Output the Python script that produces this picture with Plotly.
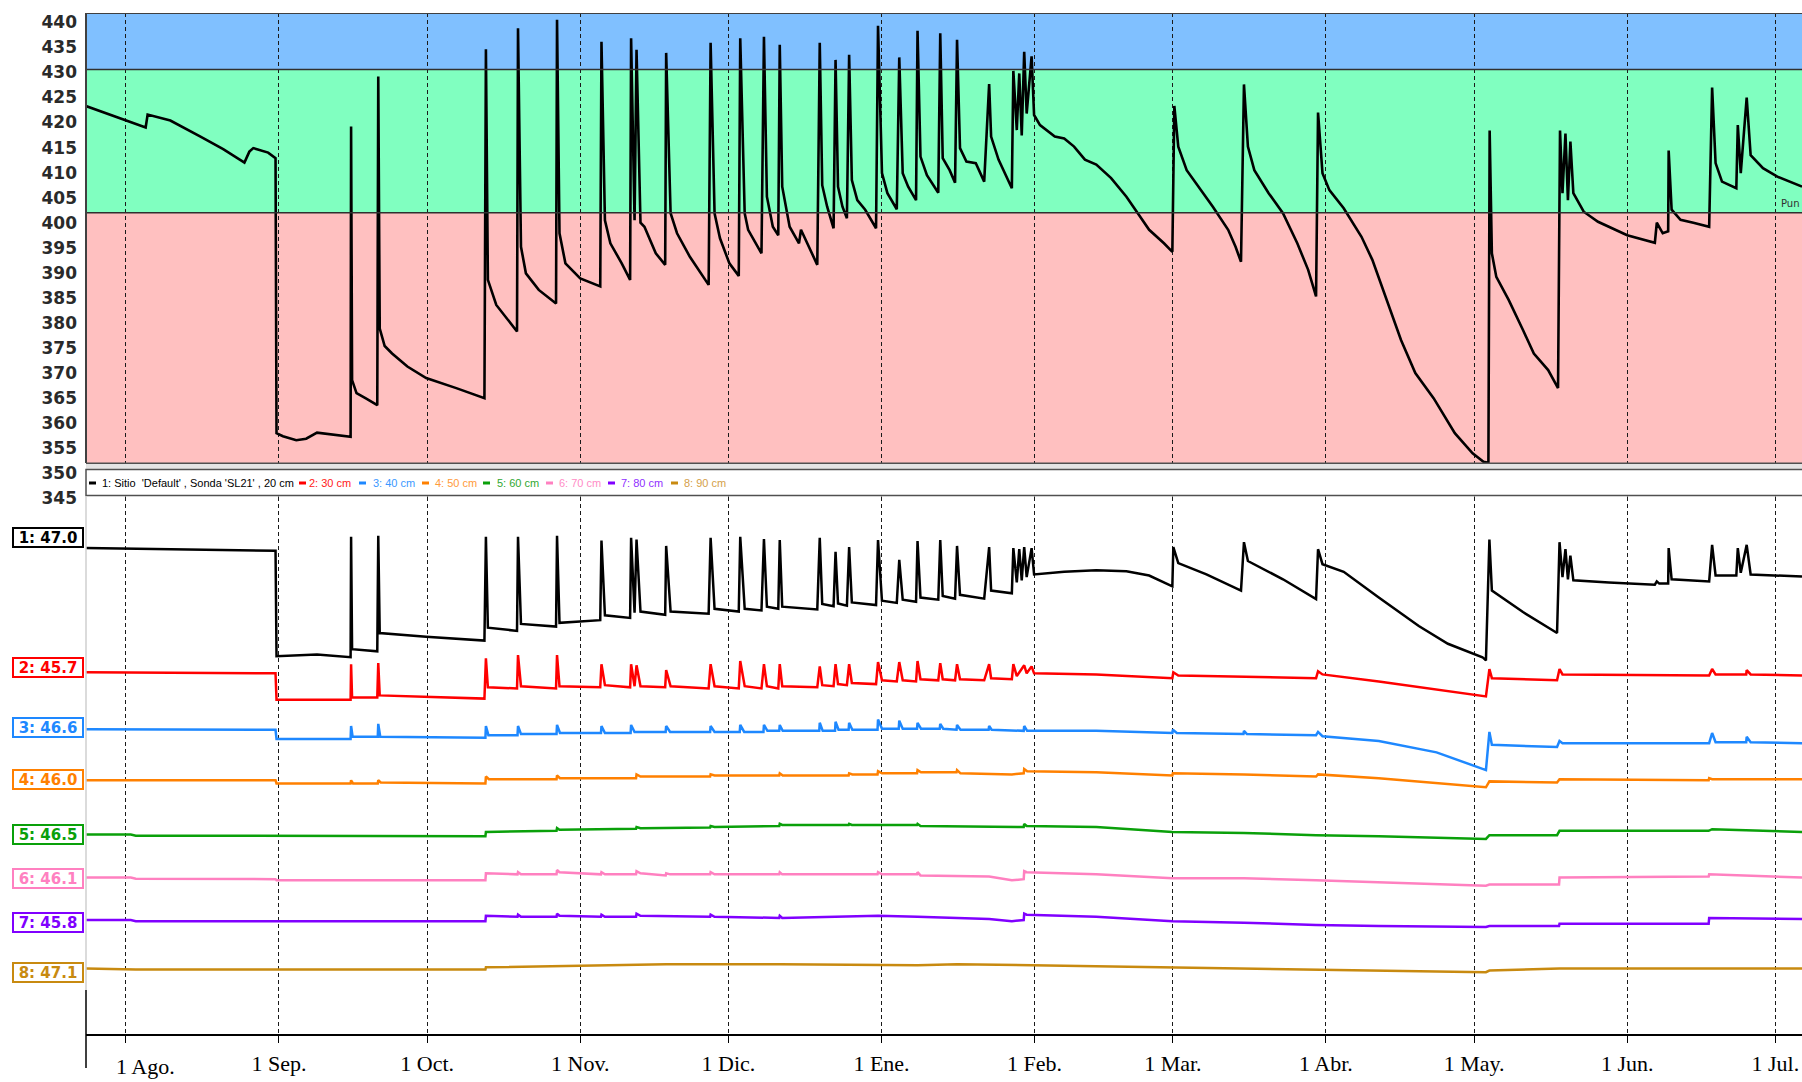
import pandas as pd
import plotly.graph_objects as go

BASE = pd.Timestamp("2021-08-01")

# ---------------- DATA ----------------
# x values are days since 1 Aug; top panel values on the top axis scale
TOP = [(-8.1, 423.3), (4.0, 419.0), (4.4, 421.6), (9.0, 420.4), (15.1, 417.2), (19.7, 414.7),
       (24.0, 412.0), (25.0, 414.2), (25.8, 414.9), (28.8, 414.0), (30.3, 412.9), (30.5, 358.0),
       (31.8, 357.4), (34.5, 356.6), (36.5, 356.9), (38.7, 358.1), (45.5, 357.3), (45.6, 419.2),
       (45.8, 368.6), (46.7, 366.0), (48.5, 365.0), (50.9, 363.6), (51.1, 429.2), (51.4, 378.9),
       (52.4, 375.4), (53.9, 373.9), (57.0, 371.3), (60.8, 369.0), (66.9, 367.0), (72.6, 365.0), (72.9, 434.6),
       (73.3, 388.6), (75.0, 383.6), (76.9, 381.2), (79.2, 378.3), (79.4, 438.8), (80.0, 395.2),
       (81.0, 389.9), (83.6, 386.6), (87.1, 383.9), (87.3, 440.5), (87.8, 397.9), (89.0, 391.9),
       (92.0, 388.9), (96.05, 387.3), (96.3, 436.1), (97.0, 400.5), (98.1, 395.9), (100.4, 391.9),
       (102.1, 388.6), (102.3, 436.8), (103.0, 400.5), (103.4, 434.5), (104.2, 400.0), (105.0, 399.2),
       (107.3, 393.9), (109.2, 391.6), (109.4, 433.9), (110.3, 401.9), (111.6, 397.9), (114.2, 393.2),
       (118.0, 387.6), (118.4, 435.9), (119.2, 401.9), (120.3, 396.9), (122.2, 391.9), (124.1, 389.4),
       (124.4, 436.8), (125.3, 401.9), (126.0, 398.6), (128.7, 393.9), (129.2, 437.1), (129.8, 405.2),
       (131.0, 399.2), (132.1, 397.5), (132.4, 435.5), (132.9, 407.2), (134.4, 399.2), (136.3, 395.9),
       (136.7, 398.6), (140.0, 391.6), (140.5, 435.9), (141.0, 407.5), (142.0, 403.2), (143.3, 398.9),
       (143.7, 432.5), (144.2, 407.2), (145.1, 403.2), (146.0, 400.9), (146.45, 433.5), (147.0, 408.5),
       (148.1, 404.5), (149.7, 402.6), (151.9, 398.9), (152.3, 439.3), (153.1, 409.9), (154.2, 405.9),
       (156.1, 402.7), (156.6, 433.0), (157.3, 409.9), (158.4, 407.2), (160.0, 404.5), (160.3, 438.3),
       (160.9, 413.2), (162.2, 409.5), (164.5, 406.0), (164.9, 437.8), (165.4, 412.9), (166.8, 410.5),
       (167.9, 408.0), (168.3, 436.5), (168.9, 414.9), (170.2, 412.2), (172.1, 411.9), (173.8, 408.2),
       (174.8, 427.7), (175.2, 417.2), (176.7, 412.6), (179.4, 406.9), (179.7, 430.3), (180.4, 418.5),
       (180.9, 429.8), (181.4, 417.4), (181.9, 434.1), (182.4, 421.8), (183.4, 433.2), (183.9, 421.5),
       (185.1, 419.5), (188.1, 417.2), (190.0, 416.8), (192.0, 415.2), (194.2, 412.6), (196.5, 411.6),
       (199.5, 408.9), (202.6, 405.2), (204.9, 401.9), (207.2, 398.6), (210.2, 395.9), (211.9, 394.2),
       (212.3, 423.3), (213.1, 415.2), (214.8, 410.5), (217.8, 406.5), (220.1, 403.2), (223.2, 398.6),
       (224.7, 395.2), (225.8, 392.2), (226.4, 427.6), (227.2, 415.2), (228.5, 410.5), (231.4, 405.9),
       (234.3, 401.9), (237.2, 395.9), (239.4, 390.6), (241.0, 385.3), (241.4, 422.0), (242.3, 409.9),
       (243.7, 406.5), (246.6, 402.9), (250.2, 397.2), (252.4, 392.6), (255.3, 384.6), (258.2, 376.6),
       (261.1, 370.0), (264.8, 365.0), (269.1, 358.0), (272.7, 354.0), (274.9, 352.3), (275.9, 352.1),
       (276.15, 418.4), (276.6, 393.9), (277.5, 389.2), (280.0, 384.6), (282.9, 378.6), (285.1, 373.9),
       (288.0, 370.6), (290.0, 367.0), (290.4, 418.4), (290.9, 405.9), (291.5, 417.8), (292.0, 404.5),
       (292.5, 416.2), (293.1, 405.9), (295.2, 402.2), (298.1, 400.2), (304.0, 397.5), (309.6, 396.0),
       (310.0, 400.0), (311.2, 397.9), (312.3, 398.3), (312.4, 414.4), (313.0, 402.6), (314.8, 400.6),
       (317.4, 400.0), (320.6, 399.2), (321.2, 427.0), (321.9, 411.9), (323.2, 408.2), (326.1, 406.9),
       (326.4, 419.5), (327.0, 409.9), (328.2, 425.0), (329.0, 413.5), (331.5, 410.9), (334.4, 409.2),
       (339.4, 407.2)]

# Bottom panel: relative display level (0 = axis, 100 = top of panel)
S1 = [(-8.1, 90.4), (30.3, 89.9), (30.5, 70.3), (38.7, 70.6), (45.5, 70.1), (45.6, 92.5), (45.8, 71.6),
      (50.9, 71.2), (51.1, 92.7), (51.4, 74.6), (60.8, 73.9), (72.6, 73.2), (72.9, 92.5), (73.3, 75.6),
      (79.2, 75.0), (79.4, 92.5), (80.0, 76.3), (87.1, 75.8), (87.3, 92.7), (87.8, 76.5), (96.05, 77.0),
      (96.3, 91.8), (97.0, 77.9), (102.1, 77.4), (102.3, 92.3), (103.0, 78.4), (103.4, 92.0), (104.2, 78.6),
      (109.2, 78.0), (109.4, 90.8), (110.3, 78.6), (118.0, 78.2), (118.4, 92.3), (119.2, 79.1), (124.1, 78.6),
      (124.4, 92.5), (125.3, 79.1), (128.7, 78.8), (129.2, 92.1), (129.8, 79.5), (132.1, 79.1), (132.4, 91.9),
      (132.9, 79.5), (140.0, 79.0), (140.5, 92.3), (141.0, 80.0), (143.3, 79.6), (143.7, 89.7), (144.2, 80.1),
      (146.0, 79.7), (146.45, 90.6), (147.0, 80.3), (151.9, 79.8), (152.3, 91.9), (153.1, 80.6), (156.1, 80.2),
      (156.6, 88.2), (157.3, 80.8), (160.0, 80.4), (160.3, 91.7), (160.9, 81.2), (164.5, 80.8), (164.9, 91.9),
      (165.4, 81.5), (167.9, 81.0), (168.3, 90.8), (168.9, 81.7), (173.8, 81.0), (174.8, 90.6), (175.2, 82.5),
      (179.4, 82.0), (179.7, 90.4), (180.4, 84.0), (180.9, 90.2), (181.4, 84.4), (181.9, 90.6), (182.4, 85.0),
      (183.4, 90.4), (183.9, 85.5), (190.0, 86.0), (196.5, 86.3), (202.6, 86.1), (207.2, 85.3), (211.9, 83.3),
      (212.1, 90.6), (213.1, 87.6), (218.8, 85.5), (225.8, 82.5), (226.4, 91.5), (227.2, 88.0), (234.3, 84.6),
      (241.0, 80.9), (241.4, 90.2), (242.3, 87.4), (246.6, 86.0), (253.7, 81.2), (261.8, 75.9), (267.7, 72.6),
      (274.7, 70.1), (275.4, 69.5), (276.1, 92.0), (276.6, 82.5), (282.9, 78.5), (289.8, 74.6), (290.3, 91.5),
      (290.9, 85.0), (291.5, 90.2), (292.0, 84.6), (292.5, 89.0), (293.1, 84.4), (300.3, 84.0), (309.6, 83.6),
      (310.0, 84.2), (310.5, 83.8), (312.3, 83.8), (312.4, 90.4), (313.0, 84.6), (320.5, 84.2), (320.6, 84.2),
      (321.2, 91.0), (321.9, 85.3), (326.1, 85.3), (326.4, 90.4), (327.0, 85.8), (328.2, 91.0), (329.0, 85.5),
      (339.4, 85.1)]

S2 = [(-8.1, 67.3), (30.3, 67.1), (30.5, 62.2), (45.5, 62.2), (45.6, 68.8), (45.8, 62.6), (50.9, 62.6),
      (51.1, 69.0), (51.4, 63.0), (72.6, 62.4), (72.9, 69.9), (73.3, 64.5), (79.2, 64.3), (79.4, 70.5),
      (80.0, 64.7), (87.1, 64.3), (87.3, 70.5), (87.8, 64.7), (96.05, 64.5), (96.3, 68.8), (97.0, 64.9),
      (102.1, 64.5), (102.3, 68.8), (103.0, 64.7), (103.4, 68.6), (104.2, 64.7), (109.2, 64.5), (109.4, 67.7),
      (110.3, 64.7), (118.0, 64.3), (118.4, 68.8), (119.2, 64.7), (124.1, 64.3), (124.4, 69.4), (125.3, 64.7),
      (128.7, 64.3), (129.2, 68.8), (129.8, 64.7), (132.1, 64.3), (132.4, 68.8), (132.9, 64.7), (140.0, 64.5),
      (140.5, 68.4), (141.0, 64.9), (143.3, 64.7), (143.7, 68.8), (144.2, 65.1), (146.0, 64.9), (146.45, 68.8),
      (147.0, 65.3), (151.9, 65.1), (152.3, 69.2), (153.1, 65.8), (156.1, 65.6), (156.6, 69.2), (157.3, 65.8),
      (160.0, 65.6), (160.3, 69.4), (160.9, 66.0), (164.5, 65.8), (164.9, 69.0), (165.4, 66.0), (167.9, 65.8),
      (168.3, 68.8), (168.9, 66.0), (173.8, 65.8), (174.8, 68.8), (175.2, 66.2), (179.4, 66.0), (179.7, 68.8),
      (180.4, 66.6), (181.9, 68.6), (182.4, 67.1), (183.4, 68.4), (183.9, 67.1), (196.5, 66.9), (211.9, 66.2),
      (212.1, 67.3), (213.1, 66.7), (241.0, 66.2), (241.4, 67.5), (242.3, 66.9), (253.7, 65.6), (265.4, 64.1),
      (275.4, 62.8), (276.1, 67.9), (276.6, 66.2), (289.8, 65.8), (290.3, 67.9), (290.9, 66.9), (320.5, 66.7),
      (320.6, 66.7), (321.2, 67.9), (321.9, 66.9), (328.1, 66.9), (328.2, 67.7), (329.0, 66.9), (339.4, 66.7)]

S3 = [(-8.1, 56.7), (30.3, 56.6), (30.5, 54.9), (45.5, 54.9), (45.6, 57.3), (45.9, 55.3), (51.0, 55.3),
      (51.1, 57.7), (51.5, 55.3), (72.8, 55.1), (72.9, 57.3), (73.4, 55.6), (79.3, 55.6), (79.4, 57.3),
      (80.0, 55.8), (87.2, 55.8), (87.3, 57.5), (87.9, 56.0), (96.2, 56.0), (96.3, 57.3), (97.0, 56.0),
      (102.2, 56.0), (102.3, 57.5), (103.0, 56.2), (109.3, 56.2), (109.4, 57.3), (110.2, 56.2), (118.3, 56.2),
      (118.4, 57.3), (119.2, 56.2), (124.3, 56.2), (124.4, 57.5), (125.2, 56.2), (129.1, 56.2), (129.2, 57.5),
      (129.9, 56.4), (132.3, 56.4), (132.4, 57.5), (133.0, 56.4), (140.4, 56.4), (140.5, 57.9), (141.1, 56.4),
      (143.6, 56.4), (143.7, 58.1), (144.3, 56.6), (146.35, 56.6), (146.45, 57.9), (147.1, 56.6), (152.2, 56.6),
      (152.3, 58.5), (153.1, 56.8), (156.5, 56.8), (156.6, 58.3), (157.3, 56.8), (160.2, 56.8), (160.3, 57.9),
      (161.0, 56.8), (164.8, 56.8), (164.9, 57.7), (165.5, 56.8), (168.2, 56.6), (168.3, 57.5), (169.0, 56.6),
      (174.7, 56.6), (174.8, 57.3), (175.3, 56.6), (181.8, 56.4), (181.9, 57.3), (182.5, 56.4), (196.5, 56.4),
      (211.9, 56.0), (212.0, 56.6), (212.8, 56.0), (226.3, 55.8), (226.4, 56.4), (227.0, 55.8), (241.0, 55.6),
      (241.4, 56.2), (242.3, 55.4), (253.7, 54.5), (265.4, 52.4), (275.4, 49.1), (276.1, 56.2), (276.6, 53.8),
      (289.8, 53.4), (290.3, 54.5), (290.9, 54.1), (320.5, 54.1), (320.6, 54.1), (321.2, 56.0), (321.9, 54.3),
      (328.1, 54.3), (328.2, 55.3), (329.0, 54.3), (339.4, 54.1)]

S4 = [(-8.1, 47.2), (30.3, 47.2), (30.5, 46.6), (45.5, 46.6), (45.6, 47.2), (46.0, 46.6), (51.0, 46.6),
      (51.1, 47.2), (51.6, 46.8), (72.8, 46.6), (72.9, 47.9), (73.5, 47.4), (87.2, 47.4), (87.3, 48.1),
      (87.9, 47.6), (103.3, 47.6), (103.4, 48.3), (104.2, 47.9), (118.3, 47.9), (118.4, 48.3), (119.2, 48.1),
      (132.3, 48.1), (132.4, 48.5), (133.0, 48.1), (146.35, 48.1), (146.45, 48.5), (147.1, 48.3), (152.2, 48.3),
      (152.3, 48.9), (153.1, 48.5), (160.2, 48.5), (160.3, 49.1), (161.0, 48.7), (168.2, 48.7), (168.3, 49.1),
      (169.0, 48.5), (179.4, 48.3), (181.8, 48.5), (181.9, 49.3), (182.5, 48.9), (196.5, 48.7), (211.9, 48.1),
      (212.0, 48.5), (226.4, 48.3), (241.0, 47.9), (241.4, 48.3), (253.7, 47.6), (275.4, 45.9), (276.1, 47.0),
      (289.8, 46.8), (290.3, 47.4), (320.5, 47.2), (320.6, 47.6), (321.2, 47.4), (339.4, 47.4)]

S5 = [(-8.1, 37.1), (1.0, 37.1), (2.0, 36.9), (30.3, 36.9), (30.5, 36.8), (72.8, 36.8), (72.9, 37.6),
      (87.2, 37.8), (87.3, 38.3), (87.8, 38.0), (103.3, 38.2), (103.4, 38.5), (104.2, 38.3), (118.3, 38.4),
      (118.4, 38.7), (119.2, 38.5), (132.3, 38.7), (132.4, 39.1), (132.9, 38.9), (146.35, 38.9), (146.45, 39.1),
      (147.0, 38.9), (160.2, 38.9), (160.3, 39.1), (160.9, 38.7), (174.8, 38.5), (181.8, 38.5), (181.9, 39.1),
      (182.4, 38.7), (196.5, 38.5), (211.9, 37.6), (226.4, 37.4), (241.0, 37.0), (253.7, 36.8), (275.4, 36.3),
      (276.1, 37.0), (289.8, 37.0), (290.3, 37.8), (320.5, 37.8), (321.2, 38.1), (339.4, 37.6)]

S6 = [(-8.1, 29.1), (1.0, 29.1), (2.0, 28.9), (30.3, 28.8), (30.5, 28.6), (72.8, 28.6), (72.9, 29.9),
      (79.3, 29.7), (79.4, 30.1), (80.0, 29.7), (87.2, 29.7), (87.3, 30.5), (87.8, 30.1), (96.2, 29.7),
      (96.3, 30.1), (97.0, 29.7), (103.3, 29.7), (103.4, 30.3), (104.2, 29.9), (109.3, 29.5), (109.4, 29.9),
      (110.2, 29.7), (118.3, 29.7), (118.4, 30.1), (119.2, 29.7), (132.3, 29.7), (132.4, 30.1), (132.9, 29.7),
      (152.2, 29.7), (152.3, 30.1), (153.1, 29.7), (160.2, 29.7), (160.3, 30.1), (160.9, 29.5), (174.8, 29.3),
      (179.4, 28.6), (181.8, 28.8), (181.9, 30.3), (182.4, 30.1), (196.5, 29.7), (211.9, 29.0), (226.4, 29.0),
      (241.0, 28.6), (253.7, 28.2), (275.4, 27.6), (276.1, 27.8), (290.2, 27.8), (290.3, 29.1), (320.5, 29.3),
      (320.6, 29.7), (339.4, 29.1)]

S7 = [(-8.1, 21.2), (1.0, 21.2), (2.0, 21.0), (30.3, 21.0), (72.8, 21.0), (72.9, 22.0), (79.3, 21.8),
      (79.4, 22.2), (80.0, 21.8), (87.2, 21.8), (87.3, 22.4), (87.8, 22.0), (96.2, 21.8), (96.3, 22.2),
      (97.0, 21.8), (103.3, 21.8), (103.4, 22.4), (104.2, 22.0), (118.3, 21.8), (118.4, 22.2), (119.2, 21.8),
      (132.3, 21.6), (132.4, 22.0), (132.9, 21.6), (152.3, 22.0), (160.3, 21.8), (174.8, 21.4), (179.4, 21.0),
      (181.8, 21.2), (181.9, 22.4), (182.4, 22.2), (196.5, 21.8), (211.9, 21.0), (226.4, 20.7), (241.0, 20.3),
      (253.7, 20.1), (275.4, 19.9), (276.1, 20.1), (290.2, 20.1), (290.3, 20.5), (320.5, 20.5), (320.6, 21.6),
      (339.4, 21.4)]

S8 = [(-8.1, 12.2), (2.0, 12.0), (30.3, 12.0), (72.8, 12.0), (72.9, 12.4), (96.3, 12.8), (109.4, 13.0),
      (132.4, 13.0), (160.3, 12.8), (168.3, 13.0), (181.9, 12.8), (211.9, 12.4), (241.0, 12.0), (275.4, 11.5),
      (276.1, 11.8), (290.3, 12.2), (339.4, 12.2)]

BOTTOM_SERIES = [S1, S2, S3, S4, S5, S6, S7, S8]
SERIES_COLORS = ["#000000", "#ff0000", "#1e88ff", "#ff8000", "#0aa00a", "#ff80c0", "#8000ff", "#c88a10"]
LEGEND_TEXT_COLORS = ["#000000", "#ff2020", "#3a98ff", "#ff9a3a", "#30a830", "#ff8cc6", "#9030ff", "#d4a048"]
LEGEND_LABELS = ["1: Sitio  'Default' , Sonda 'SL21' , 20 cm", "2: 30 cm", "3: 40 cm", "4: 50 cm",
                 "5: 60 cm", "6: 70 cm", "7: 80 cm", "8: 90 cm"]
BOX_LABELS = ["1: 47.0", "2: 45.7", "3: 46.6", "4: 46.0", "5: 46.5", "6: 46.1", "7: 45.8", "8: 47.1"]
BOX_LEVELS = [92.3, 68.2, 57.1, 47.4, 37.2, 28.9, 20.7, 11.4]

MONTH_DAYS = [0, 31, 61, 92, 122, 153, 184, 212, 243, 273, 304, 334]
MONTH_LABELS = ["1 Ago.", "1 Sep.", "1 Oct.", "1 Nov.", "1 Dic.", "1 Ene.", "1 Feb.", "1 Mar.",
                "1 Abr.", "1 May.", "1 Jun.", "1 Jul."]
Y_TICKS = [345, 350, 355, 360, 365, 370, 375, 380, 385, 390, 395, 400, 405, 410, 415, 420, 425, 430, 435, 440]

ZONE_TOP = 441.86
ZONE_HIGH = 430.6
ZONE_LOW = 402.0
ZONE_FLOOR = 352.05
X_START_DAY = -8.08
X_END_DAY = 339.4


def to_dates(days):
    return [BASE + pd.Timedelta(days=d) for d in days]


# ---------------- LAYOUT HELPERS (pixel -> paper) ----------------
W, H = 1802, 1082
ML, MR, MT, MB = 86, 0, 13, 48
PW, PH = W - ML - MR, H - MT - MB


def px_x(p):
    return (p - ML) / PW


def px_y(p):
    return (H - MB - p) / PH


fig = go.Figure()

tx, tv = zip(*TOP)
fig.add_trace(go.Scatter(x=to_dates(tx), y=list(tv), mode="lines",
                         line=dict(color="#000000", width=2.6), xaxis="x", yaxis="y",
                         showlegend=False, hoverinfo="skip"))

for s, c in zip(BOTTOM_SERIES, SERIES_COLORS):
    d, v = zip(*s)
    fig.add_trace(go.Scatter(x=to_dates(d), y=list(v), mode="lines",
                             line=dict(color=c, width=2.5), xaxis="x2", yaxis="y2",
                             showlegend=False, hoverinfo="skip"))

month_dates = to_dates(MONTH_DAYS)
xrange = [BASE + pd.Timedelta(days=X_START_DAY), BASE + pd.Timedelta(days=X_END_DAY)]

grid_common = dict(type="date", range=xrange, tickvals=month_dates, showgrid=True,
                   gridcolor="#1a1a1a", gridwidth=1, griddash="4px,3px", zeroline=False)

top_domain_bottom = px_y(22.3 + (440 - 345) * 5.011)
bottom_domain_top = px_y(496.5)

shapes = []
for y0, y1, col in [(ZONE_HIGH, ZONE_TOP, "#80c0ff"), (ZONE_LOW, ZONE_HIGH, "#80ffc0"),
                    (ZONE_FLOOR, ZONE_LOW, "#ffc0c0")]:
    shapes.append(dict(type="rect", xref="paper", yref="y", x0=0, x1=1, y0=y0, y1=y1,
                       fillcolor=col, line=dict(width=0), layer="below"))
for yv in [ZONE_HIGH, ZONE_LOW]:
    shapes.append(dict(type="line", xref="paper", yref="y", x0=0, x1=1, y0=yv, y1=yv,
                       line=dict(color="#303030", width=1.5), layer="above"))
shapes.append(dict(type="line", xref="paper", yref="y", x0=0, x1=1, y0=ZONE_TOP, y1=ZONE_TOP,
                   line=dict(color="#404040", width=2), layer="above"))
shapes.append(dict(type="line", xref="paper", yref="y", x0=0, x1=0, y0=ZONE_FLOOR, y1=ZONE_TOP,
                   line=dict(color="#404040", width=2), layer="above"))
shapes.append(dict(type="rect", xref="paper", yref="paper", x0=0, x1=1.01, y0=px_y(469), y1=px_y(463.2),
                   fillcolor="#e4e4e4", line=dict(width=0), layer="above"))
shapes.append(dict(type="line", xref="paper", yref="paper", x0=0, x1=1.01, y0=px_y(463.2), y1=px_y(463.2),
                   line=dict(color="#505050", width=1.5), layer="above"))
shapes.append(dict(type="rect", xref="paper", yref="paper", x0=0, x1=1.01, y0=px_y(495.5), y1=px_y(469.5),
                   fillcolor="#ffffff", line=dict(color="#505050", width=1.5), layer="above"))
shapes.append(dict(type="line", xref="paper", yref="paper", x0=0, x1=0, y0=px_y(990), y1=px_y(496),
                   line=dict(color="#cfcfcf", width=1.5), layer="above"))
shapes.append(dict(type="line", xref="paper", yref="paper", x0=0, x1=0, y0=px_y(1068), y1=px_y(990),
                   line=dict(color="#000000", width=1.5), layer="above"))

annotations = []
legend_marker_x = [89, 299, 359, 422, 483, 546, 608, 671]
legend_text_x = [100, 307, 371, 433, 495, 557, 619, 682]
for mx, tx0, lab, mc, tc in zip(legend_marker_x, legend_text_x, LEGEND_LABELS, SERIES_COLORS,
                                LEGEND_TEXT_COLORS):
    shapes.append(dict(type="rect", xref="paper", yref="paper", x0=px_x(mx), x1=px_x(mx + 7),
                       y0=px_y(484.5), y1=px_y(481.5), fillcolor=mc, line=dict(width=0), layer="above"))
    annotations.append(dict(text=lab, xref="paper", yref="paper", x=px_x(tx0), y=px_y(483),
                            xanchor="left", yanchor="middle", showarrow=False,
                            font=dict(family="Liberation Sans, Arial", size=11, color=tc)))
for lab, lvl, col in zip(BOX_LABELS, BOX_LEVELS, SERIES_COLORS):
    annotations.append(dict(text=lab, xref="paper", yref="y2", x=px_x(48), y=lvl,
                            xanchor="center", yanchor="middle", showarrow=False,
                            width=66, height=15, borderpad=1, borderwidth=2, bordercolor=col,
                            bgcolor="#ffffff",
                            font=dict(family="DejaVu Sans", size=15, color=col, weight="bold")))
annotations.append(dict(text=MONTH_LABELS[0], xref="x2", yref="paper", x=month_dates[0], xshift=20,
                        y=px_y(1066), yanchor="middle", showarrow=False,
                        font=dict(family="Liberation Serif", size=22, color="#000000")))
annotations.append(dict(text="Pun", xref="paper", yref="y", x=1, y=403.9,
                        xanchor="right", yanchor="middle", showarrow=False,
                        font=dict(family="DejaVu Sans", size=10, color="#303030")))

fig.update_layout(
    width=W, height=H,
    margin=dict(l=ML, r=MR, t=MT, b=MB, pad=0),
    paper_bgcolor="#ffffff", plot_bgcolor="#ffffff",
    showlegend=False,
    xaxis=dict(**grid_common, anchor="y", showticklabels=False, ticks="", showline=False),
    xaxis2=dict(**grid_common, anchor="y2", matches="x", showline=True, linecolor="#000000", linewidth=2,
                ticks="outside", ticklen=7, tickcolor="#000000", tickwidth=1,
                ticktext=[""] + MONTH_LABELS[1:], ticklabelstandoff=2,
                tickfont=dict(family="Liberation Serif", size=22, color="#000000")),
    yaxis=dict(domain=[top_domain_bottom, 1], range=[345, ZONE_TOP], tickvals=Y_TICKS,
               showgrid=False, zeroline=False, showline=False, ticks="", ticklabelstandoff=8,
               tickfont=dict(family="DejaVu Sans", size=17, color="#2a2a2a", weight="bold")),
    yaxis2=dict(domain=[0, bottom_domain_top], range=[0, 100], showgrid=False, zeroline=False,
                showline=False, showticklabels=False, ticks=""),
    shapes=shapes,
    annotations=annotations,
)

fig.write_html("out.html")
